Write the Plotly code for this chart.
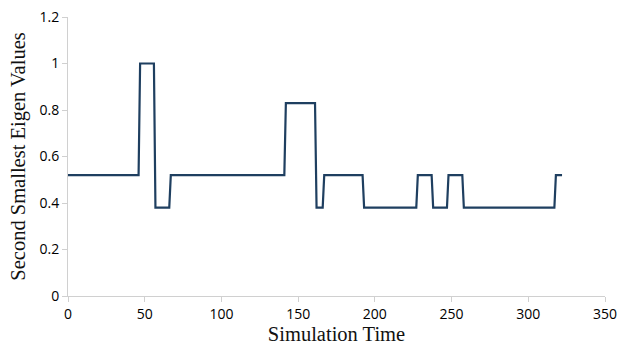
import plotly.graph_objects as go

times = [0, 46, 47, 56, 57, 66, 67, 141, 142, 161, 162, 166, 167, 192, 193,
         227, 228, 237, 238, 247, 248, 257, 258, 317, 318, 322]
eigen_values = [0.52, 0.52, 1.0, 1.0, 0.38, 0.38, 0.52, 0.52, 0.83, 0.83, 0.38, 0.38,
                0.52, 0.52, 0.38, 0.38, 0.52, 0.52, 0.38, 0.38, 0.52, 0.52, 0.38, 0.38,
                0.52, 0.52]
x_ticks = [0, 50, 100, 150, 200, 250, 300, 350]
y_ticks = [0, 0.2, 0.4, 0.6, 0.8, 1.0, 1.2]
y_tick_labels = ["0", "0.2", "0.4", "0.6", "0.8", "1", "1.2"]

serif = "Liberation Serif, Times New Roman, serif"

fig = go.Figure()
fig.add_trace(go.Scatter(x=times, y=eigen_values, mode="lines",
                         line=dict(color="#1f3f60", width=2.2)))

fig.update_layout(
    width=621, height=356,
    margin=dict(l=68, r=16, t=17, b=60),
    paper_bgcolor="white", plot_bgcolor="white",
    showlegend=False,
    font=dict(family="Open Sans, Liberation Sans, Arial, sans-serif", size=14, color="#000"),
)
fig.update_xaxes(
    range=[0, 350], tickvals=x_ticks, showgrid=False, zeroline=False, automargin=False,
    showline=True, linecolor="#d0d0d0", linewidth=1,
    ticks="outside", ticklen=5, tickcolor="#d0d0d0",
    tickfont=dict(size=14, color="#000"),
    title=dict(text="Simulation Time", font=dict(family=serif, size=20.5, color="#111"), standoff=4),
)
fig.update_yaxes(
    range=[0, 1.2], tickvals=y_ticks, ticktext=y_tick_labels, showgrid=False, zeroline=False,
    automargin=False,
    showline=True, linecolor="#d0d0d0", linewidth=1,
    ticks="outside", ticklen=5, tickcolor="#d0d0d0",
    tickfont=dict(size=14, color="#000"),
    title=dict(text="Second Smallest Eigen Values", font=dict(family=serif, size=20.5, color="#111"), standoff=8),
)

fig.write_html("out.html", config={"displayModeBar": False},
               post_script="document.body.style.margin='0';document.body.style.padding='0';")
